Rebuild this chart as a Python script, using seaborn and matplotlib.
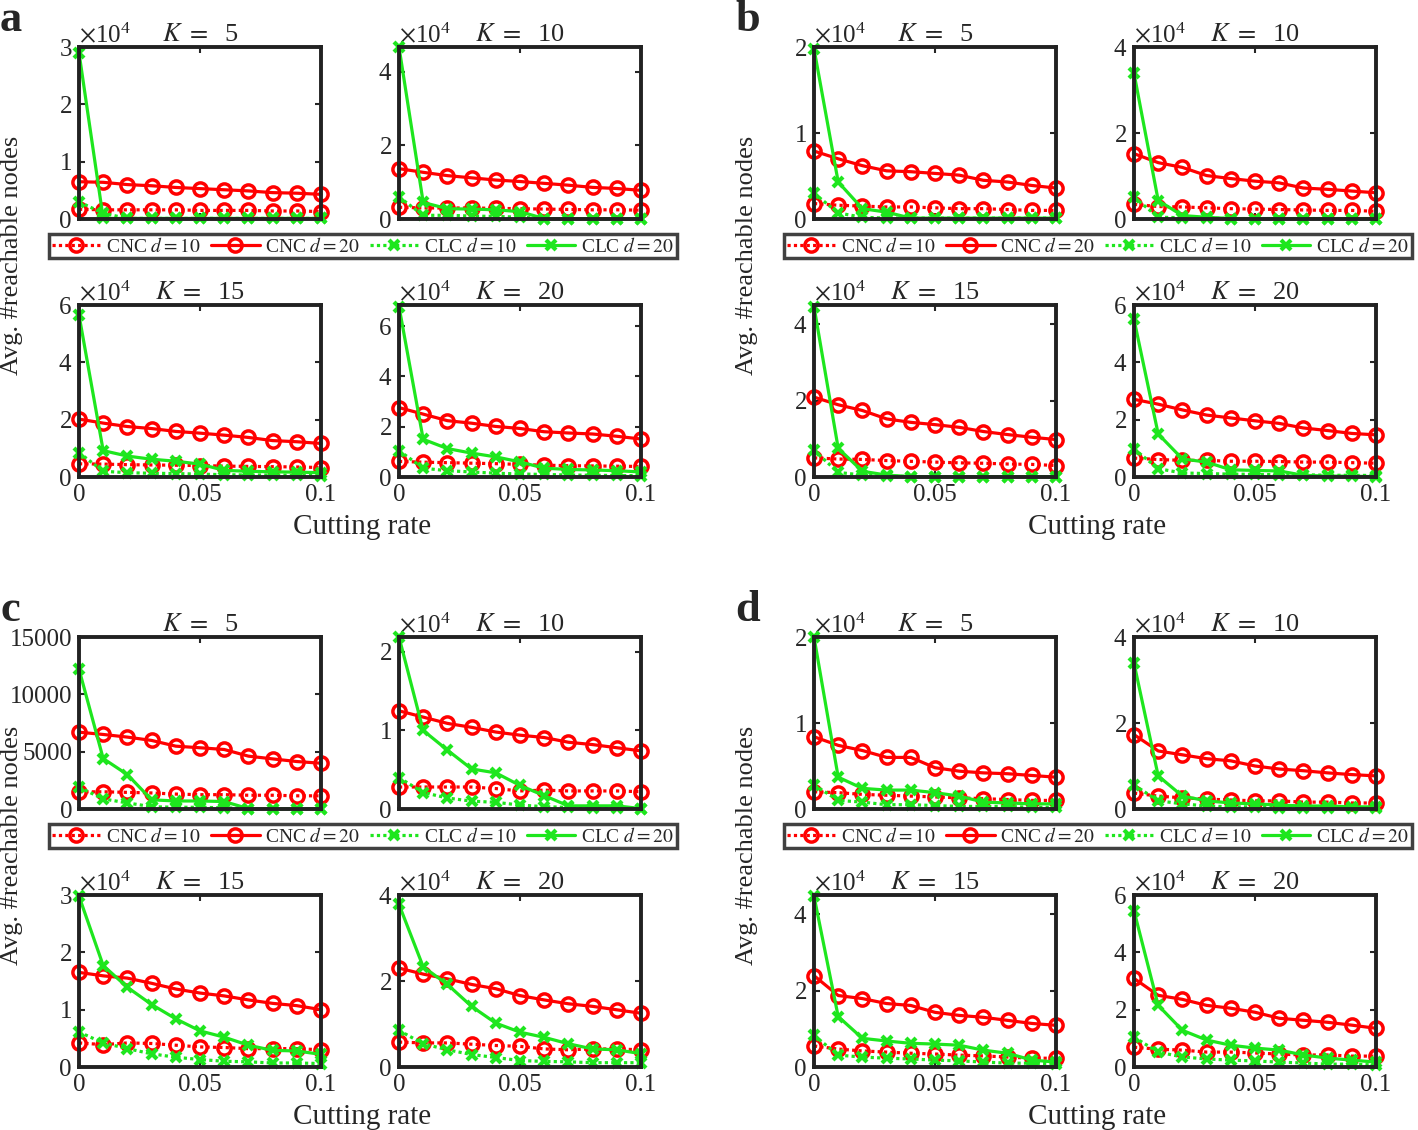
import numpy as np
import seaborn as sns
import matplotlib
matplotlib.use("Agg")
from matplotlib import pyplot as plt
from matplotlib.ticker import ScalarFormatter, MultipleLocator

# cutting rate (x axis) and K of the four small plots in every panel
rate = [0, 0.01, 0.02, 0.03, 0.04, 0.05, 0.06, 0.07, 0.08, 0.09, 0.1]
K_values = [5, 10, 15, 20]
labels = [r"CNC $d = 10$", r"CNC $d = 20$", r"CLC $d = 10$", r"CLC $d = 20$"]

# values in units of 1e4 nodes, one list per K = 5, 10, 15, 20
a_cnc10 = [[0.17, 0.16, 0.16, 0.16, 0.16, 0.15, 0.15, 0.15, 0.14, 0.14, 0.13],
           [0.32, 0.30, 0.30, 0.30, 0.29, 0.28, 0.27, 0.26, 0.25, 0.25, 0.24],
           [0.46, 0.45, 0.43, 0.42, 0.41, 0.40, 0.38, 0.37, 0.36, 0.35, 0.33],
           [0.62, 0.59, 0.57, 0.55, 0.53, 0.50, 0.47, 0.45, 0.44, 0.43, 0.42]]
a_cnc20 = [[0.65, 0.64, 0.60, 0.58, 0.55, 0.53, 0.51, 0.49, 0.46, 0.45, 0.43],
           [1.37, 1.27, 1.18, 1.12, 1.06, 1.02, 0.97, 0.92, 0.86, 0.83, 0.78],
           [2.02, 1.88, 1.76, 1.69, 1.59, 1.53, 1.46, 1.38, 1.27, 1.23, 1.17],
           [2.76, 2.50, 2.24, 2.14, 2.01, 1.93, 1.80, 1.75, 1.71, 1.62, 1.51]]
a_clc10 = [[0.30, 0.10, 0.01, 0.01, 0.01, 0.01, 0.01, 0.01, 0.01, 0.01, 0.01],
           [0.60, 0.10, 0.10, 0.08, 0.07, 0.05, 0.01, 0.01, 0.01, 0.01, 0.01],
           [0.85, 0.20, 0.15, 0.13, 0.12, 0.10, 0.08, 0.07, 0.07, 0.06, 0.05],
           [1.05, 0.35, 0.25, 0.20, 0.15, 0.12, 0.10, 0.08, 0.07, 0.06, 0.05]]
a_clc20 = [[2.90, 0.01, 0.01, 0.01, 0.01, 0.01, 0.01, 0.01, 0.01, 0.01, 0.01],
           [4.68, 0.45, 0.28, 0.27, 0.25, 0.20, 0.01, 0.01, 0.01, 0.01, 0.01],
           [5.65, 0.92, 0.73, 0.62, 0.55, 0.45, 0.23, 0.20, 0.18, 0.17, 0.15],
           [6.78, 1.50, 1.13, 0.95, 0.80, 0.60, 0.35, 0.30, 0.28, 0.25, 0.20]]

b_cnc10 = [[0.18, 0.16, 0.15, 0.14, 0.14, 0.13, 0.12, 0.12, 0.11, 0.10, 0.10],
           [0.34, 0.29, 0.28, 0.26, 0.24, 0.23, 0.22, 0.21, 0.20, 0.20, 0.18],
           [0.50, 0.47, 0.46, 0.43, 0.41, 0.39, 0.37, 0.36, 0.34, 0.33, 0.30],
           [0.66, 0.61, 0.58, 0.58, 0.55, 0.55, 0.54, 0.52, 0.52, 0.50, 0.48]]
b_cnc20 = [[0.79, 0.70, 0.62, 0.56, 0.55, 0.53, 0.51, 0.45, 0.43, 0.39, 0.36],
           [1.52, 1.31, 1.20, 1.01, 0.94, 0.88, 0.84, 0.72, 0.69, 0.65, 0.61],
           [2.09, 1.89, 1.74, 1.52, 1.43, 1.37, 1.30, 1.19, 1.11, 1.04, 0.98],
           [2.71, 2.54, 2.34, 2.16, 2.06, 1.96, 1.87, 1.71, 1.62, 1.52, 1.47]]
b_clc10 = [[0.30, 0.07, 0.02, 0.01, 0.01, 0.01, 0.01, 0.01, 0.01, 0.01, 0.01],
           [0.51, 0.04, 0.03, 0.02, 0.01, 0.01, 0.01, 0.01, 0.01, 0.01, 0.01],
           [0.70, 0.12, 0.05, 0.02, 0.01, 0.01, 0.01, 0.01, 0.01, 0.01, 0.01],
           [0.98, 0.29, 0.14, 0.12, 0.10, 0.09, 0.08, 0.08, 0.06, 0.06, 0.05]]
b_clc20 = [[1.98, 0.43, 0.12, 0.08, 0.01, 0.01, 0.01, 0.01, 0.01, 0.01, 0.01],
           [3.39, 0.43, 0.08, 0.04, 0.01, 0.01, 0.01, 0.01, 0.01, 0.01, 0.01],
           [4.46, 0.75, 0.15, 0.05, 0.01, 0.01, 0.01, 0.01, 0.01, 0.01, 0.01],
           [5.50, 1.50, 0.63, 0.52, 0.25, 0.23, 0.21, 0.06, 0.03, 0.03, 0.01]]

c_cnc10 = [[0.150, 0.150, 0.145, 0.140, 0.130, 0.125, 0.125, 0.120, 0.120, 0.115, 0.115],
           [0.28, 0.28, 0.28, 0.28, 0.26, 0.23, 0.24, 0.23, 0.23, 0.23, 0.22],
           [0.42, 0.39, 0.42, 0.41, 0.38, 0.35, 0.34, 0.32, 0.32, 0.32, 0.30],
           [0.58, 0.56, 0.56, 0.53, 0.50, 0.48, 0.42, 0.40, 0.42, 0.42, 0.40]]
c_cnc20 = [[0.670, 0.650, 0.627, 0.598, 0.548, 0.534, 0.519, 0.461, 0.437, 0.414, 0.399],
           [1.25, 1.17, 1.09, 1.04, 0.98, 0.94, 0.91, 0.85, 0.82, 0.78, 0.74],
           [1.65, 1.59, 1.55, 1.46, 1.36, 1.29, 1.24, 1.17, 1.11, 1.07, 1.00],
           [2.30, 2.16, 2.05, 1.92, 1.82, 1.66, 1.56, 1.47, 1.41, 1.33, 1.25]]
c_clc10 = [[0.190, 0.088, 0.053, 0.020, 0.015, 0.015, 0.010, 0.003, 0.002, 0.002, 0.002],
           [0.40, 0.21, 0.14, 0.10, 0.085, 0.05, 0.03, 0.02, 0.01, 0.01, 0.005],
           [0.61, 0.42, 0.32, 0.23, 0.17, 0.13, 0.10, 0.09, 0.07, 0.07, 0.06],
           [0.85, 0.54, 0.40, 0.29, 0.22, 0.15, 0.13, 0.12, 0.10, 0.10, 0.10]]
c_clc20 = [[1.220, 0.440, 0.300, 0.080, 0.070, 0.070, 0.065, 0.003, 0.002, 0.002, 0.002],
           [2.19, 1.00, 0.75, 0.51, 0.46, 0.30, 0.17, 0.04, 0.04, 0.04, 0.005],
           [2.98, 1.77, 1.39, 1.09, 0.84, 0.63, 0.52, 0.38, 0.29, 0.28, 0.22],
           [3.78, 2.33, 1.92, 1.41, 1.02, 0.81, 0.69, 0.54, 0.42, 0.40, 0.31]]

d_cnc10 = [[0.20, 0.19, 0.17, 0.16, 0.15, 0.14, 0.13, 0.12, 0.11, 0.10, 0.10],
           [0.37, 0.30, 0.26, 0.23, 0.21, 0.19, 0.19, 0.16, 0.16, 0.14, 0.14],
           [0.55, 0.47, 0.42, 0.39, 0.36, 0.34, 0.31, 0.29, 0.26, 0.23, 0.23],
           [0.69, 0.62, 0.59, 0.52, 0.52, 0.49, 0.45, 0.42, 0.42, 0.38, 0.38]]
d_cnc20 = [[0.84, 0.74, 0.68, 0.60, 0.60, 0.48, 0.44, 0.42, 0.41, 0.39, 0.37],
           [1.73, 1.35, 1.26, 1.17, 1.12, 1.00, 0.93, 0.89, 0.84, 0.80, 0.77],
           [2.39, 1.87, 1.79, 1.66, 1.61, 1.43, 1.35, 1.30, 1.22, 1.14, 1.09],
           [3.09, 2.50, 2.36, 2.15, 2.05, 1.91, 1.70, 1.63, 1.56, 1.46, 1.35]]
d_clc10 = [[0.28, 0.10, 0.08, 0.05, 0.05, 0.04, 0.03, 0.03, 0.03, 0.02, 0.02],
           [0.56, 0.19, 0.12, 0.07, 0.05, 0.05, 0.03, 0.03, 0.03, 0.03, 0.03],
           [0.83, 0.31, 0.26, 0.23, 0.21, 0.18, 0.16, 0.13, 0.10, 0.10, 0.08],
           [1.04, 0.52, 0.35, 0.28, 0.24, 0.21, 0.17, 0.14, 0.10, 0.10, 0.07]]
d_clc20 = [[2.00, 0.37, 0.24, 0.22, 0.22, 0.19, 0.15, 0.08, 0.07, 0.06, 0.06],
           [3.39, 0.77, 0.30, 0.19, 0.14, 0.12, 0.09, 0.07, 0.07, 0.05, 0.05],
           [4.47, 1.32, 0.75, 0.68, 0.62, 0.60, 0.57, 0.44, 0.36, 0.18, 0.13],
           [5.45, 2.15, 1.28, 0.94, 0.76, 0.66, 0.59, 0.42, 0.31, 0.24, 0.17]]

# y axis top (1e4 units) and tick step per small plot
a_ymax, a_step = [3, 4.68, 6, 6.84], [1, 2, 2, 2]
b_ymax, b_step = [2, 4, 4.5, 6], [1, 2, 2, 2]
c_ymax, c_step = [1.5, 2.19, 3, 4], [0.5, 1, 1, 2]
d_ymax, d_step = [2, 4, 4.5, 6], [1, 2, 2, 2]

RED = "#ff0000"
GREEN = "#1ee61e"
line_styles = [
    dict(color=RED, marker="o", linestyle=(0, (1, 1)), ms=9.5, mew=2.5),
    dict(color=RED, marker="o", linestyle="-", ms=9.5, mew=2.5),
    dict(color=GREEN, marker="x", linestyle=(0, (1, 1)), ms=6.5, mew=3),
    dict(color=GREEN, marker="x", linestyle="-", ms=6.5, mew=3),
]

sns.set_style("ticks")
plt.rcParams["font.family"] = ["Liberation Serif", "DejaVu Serif"]
plt.rcParams["mathtext.fontset"] = "stix"

W, H = 1418, 1130
fig = plt.figure(figsize=(W / 100, H / 100), dpi=100)


def px_axes(left, top, w=242, h=172):
    return fig.add_axes([left / W, 1 - (top + h) / H, w / W, h / H])


def draw_panel(x0, y0, series, ymax, step, letter, plain_first=False):
    lefts = [x0 + 79, x0 + 399, x0 + 79, x0 + 399]
    tops = [y0 + 47, y0 + 47, y0 + 305, y0 + 305]
    for i, ax in enumerate([px_axes(l, t) for l, t in zip(lefts, tops)]):
        for vals, sty, lab in zip(series, line_styles, labels):
            y = np.array(vals[i]) * 1e4
            sns.lineplot(x=rate, y=y, ax=ax, color=sty["color"], marker=sty["marker"],
                         linestyle=sty["linestyle"], lw=2.3, ms=sty["ms"], mew=sty["mew"],
                         mec=sty["color"], mfc="none", errorbar=None, legend=False,
                         label=lab, clip_on=False)
        ax.set_xlim(0, 0.1)
        ax.set_ylim(0, ymax[i] * 1e4)
        ax.set_xticks([0, 0.05, 0.1], ["0", "0.05", "0.1"])
        ax.yaxis.set_major_locator(MultipleLocator(step[i] * 1e4))
        if plain_first and i == 0:
            fmt = ScalarFormatter(useOffset=False)
            fmt.set_scientific(False)
        else:
            fmt = ScalarFormatter(useMathText=True)
            fmt.set_powerlimits((-3, 3))
        ax.yaxis.set_major_formatter(fmt)
        ax.yaxis.get_offset_text().set_fontsize(18)
        ax.set_xlabel("")
        ax.set_ylabel("")
        ax.tick_params(direction="in", length=4, width=1.5, top=True, right=True,
                       labelsize=18, pad=5, labelbottom=(i >= 2))
        for sp in ax.spines.values():
            sp.set_linewidth(2.8)
            sp.set_color("#222222")
        ax.set_title(f"$K\\ =$  {K_values[i]}", fontsize=19, pad=4)
        if i == 0:
            handles, labs = ax.get_legend_handles_labels()
    leg = fig.legend(handles, labs, loc="center",
                     bbox_to_anchor=((x0 + 363) / W, 1 - (y0 + 246) / H),
                     ncol=4, fontsize=14, frameon=True, fancybox=False,
                     edgecolor="#111111", borderpad=0.15, handlelength=2.5,
                     handletextpad=0.3, columnspacing=0.5, borderaxespad=0)
    leg.get_frame().set_linewidth(2.5)
    fig.text((x0 + 12) / W, 1 - (y0 + 255) / H, "Avg. #reachable nodes",
             rotation=90, ha="center", va="center", fontsize=19)
    fig.text((x0 + 362) / W, 1 - (y0 + 527) / H, "Cutting rate",
             ha="center", va="center", fontsize=21)
    fig.text((x0 + 0) / W, 1 - (y0 + 0) / H, letter, ha="left", va="top",
             fontsize=32, fontweight="bold")


draw_panel(0, 0, [a_cnc10, a_cnc20, a_clc10, a_clc20], a_ymax, a_step, "a")
draw_panel(735, 0, [b_cnc10, b_cnc20, b_clc10, b_clc20], b_ymax, b_step, "b")
draw_panel(0, 590, [c_cnc10, c_cnc20, c_clc10, c_clc20], c_ymax, c_step, "c",
           plain_first=True)
draw_panel(735, 590, [d_cnc10, d_cnc20, d_clc10, d_clc20], d_ymax, d_step, "d")

fig.savefig("out.png", dpi=100)
